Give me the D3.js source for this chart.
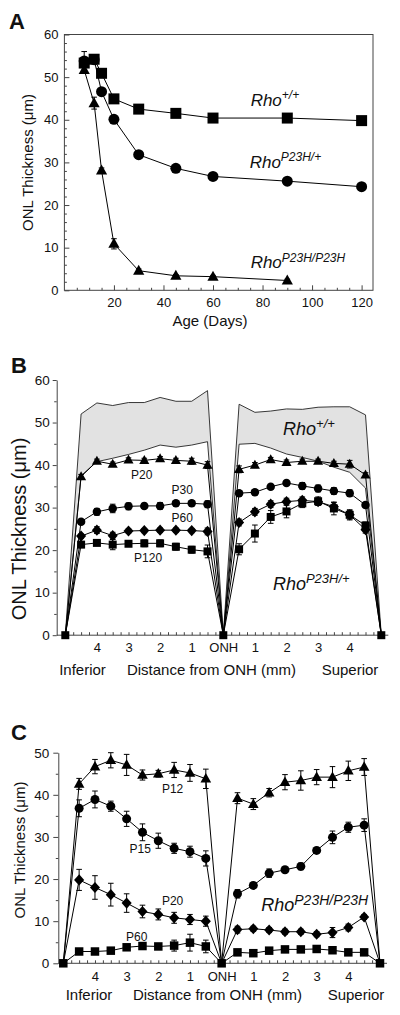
<!DOCTYPE html>
<html><head><meta charset="utf-8">
<script src="https://cdn.jsdelivr.net/npm/d3@7"></script>
<style>
body{margin:0;background:#fff}
text{font-family:"Liberation Sans",Arial,Helvetica,sans-serif;fill:#111}
</style>
</head><body>
<svg id="chart" width="400" height="1015"></svg>
<script>
// ---------- Panel A data ----------
const ageDays    = [8, 12, 15, 20, 30, 45, 60, 90, 120];
const ageWT      = [53.3, 54.2, 50.9, 44.9, 42.5, 41.5, 40.4, 40.4, 39.8];
const ageWTErr   = [0.6, 0.5, 0.5, 0.5, 0.5, 0.5, 0.5, 0.5, 0.5];
const ageHet     = [53.8, 54.1, 46.6, 40.1, 31.8, 28.6, 26.7, 25.6, 24.3];
const ageHetErr  = [2.2, 0.5, 0.5, 0.5, 0.5, 0.5, 0.5, 0.5, 0.5];
const ageHomDays = [8, 12, 15, 20, 30, 45, 60, 90];
const ageHom     = [51.7, 43.9, 28.1, 10.9, 4.6, 3.4, 3.2, 2.3];
const ageHomErr  = [0.6, 1.4, 0.6, 1.2, 0.4, 0.3, 0.3, 0.3];
const ageYTicks  = [0, 10, 20, 30, 40, 50, 60];
const ageXTicks  = [20, 40, 60, 80, 100, 120];

// ---------- Shared x positions for panels B and C (mm from ONH; - = inferior) ----------
const positions = [-5,-4.5,-4,-3.5,-3,-2.5,-2,-1.5,-1,-0.5,0,0.5,1,1.5,2,2.5,3,3.5,4,4.5,5];
const posTicks  = [-4,-3,-2,-1,0,1,2,3,4];

// ---------- Panel B data (Rho P23H/+ , with Rho +/+ range band) ----------
const bWTUpper = [0,52.0,54.6,54.0,54.7,54.7,55.9,55.0,55.0,57.5,0,54.3,52.4,52.7,53.2,53.1,53.6,53.7,53.7,51.8,0];
const bWTLower = [0,37.5,40.8,41.6,42.5,43.5,44.7,44.2,44.7,45.5,0,44.9,45.1,44.0,42.6,41.8,40.9,39.5,38.3,34.6,0];
const bP20     = [0,37.3,40.9,40.2,41.2,41.1,41.5,41.1,40.9,40.0,0,39.0,40.0,41.3,40.6,40.9,40.9,40.4,40.2,37.7,0];
const bP20Err  = [0,0.5,0.5,0.5,0.5,0.5,0.5,0.5,0.7,0.8,0,0.8,0.6,0.5,0.6,0.5,0.5,0.5,0.9,0.5,0];
const bP30     = [0,26.7,29.0,29.8,30.3,30.4,30.4,31.0,31.0,30.8,0,33.4,33.6,34.9,35.8,35.1,34.5,33.9,33.4,30.6,0];
const bP30Err  = [0,0.5,0.8,1.0,0.8,0.6,0.8,0.6,0.6,0.8,0,0.6,0.6,0.5,0.5,0.8,0.8,0.8,0.8,0.6,0];
const bP60     = [0,23.3,24.7,23.4,24.5,24.6,24.7,24.7,24.6,24.4,0,26.5,29.0,30.8,31.4,31.7,31.4,30.2,28.3,24.8,0];
const bP60Err  = [0,0.5,0.8,0.8,0.5,0.5,0.5,0.5,0.5,0.8,0,0.8,0.8,0.8,0.8,0.8,0.8,1.0,1.0,0.8,0];
const bP120    = [0,21.3,21.7,21.3,21.5,21.6,21.6,20.8,20.1,19.7,0,20.2,23.9,27.8,29.1,31.0,31.5,29.8,28.3,25.8,0];
const bP120Err = [0,0.7,0.5,1.2,0.5,0.8,0.8,0.8,0.8,1.5,0,1.3,2.0,1.5,1.5,1.0,1.0,1.5,1.2,0.8,0];
const bYTicks  = [0, 10, 20, 30, 40, 50, 60];

// ---------- Panel C data (Rho P23H/P23H) ----------
const cP12     = [0,42.6,46.7,48.2,47.1,44.7,45.0,45.9,45.2,43.8,0,39.2,37.8,40.5,43.0,43.4,44.2,44.2,45.7,46.6,0];
const cP12Err  = [0,1.3,1.7,1.8,2.5,1.2,0.8,1.8,2.0,2.3,0,1.3,1.3,1.0,1.8,2.3,1.8,2.5,2.3,2.0,0];
const cP15     = [0,36.8,38.9,37.3,34.3,31.1,29.1,27.3,26.5,24.9,0,16.5,18.5,21.4,22.2,23.0,26.8,29.9,32.3,32.8,0];
const cP15Err  = [0,2.0,2.0,1.2,1.8,2.0,1.8,1.2,1.3,1.8,0,1.0,0.7,1.0,0.6,0.8,0.5,1.5,1.2,1.5,0];
const cP20     = [0,19.8,18.0,16.3,14.3,12.3,11.6,10.8,10.4,10.0,0,8.0,8.2,7.9,7.5,7.5,6.9,7.3,8.5,11.0,0];
const cP20Err  = [0,2.5,2.8,2.7,2.2,1.5,1.3,1.3,1.2,1.2,0,0.8,0.6,0.6,0.6,0.6,0.6,1.2,0.8,0.6,0];
const cP60     = [0,2.8,2.8,3.0,3.8,4.1,4.0,4.2,4.9,4.0,0,2.6,2.4,3.0,3.3,3.3,3.4,3.1,2.6,2.6,0];
const cP60Err  = [0,0.5,0.5,0.5,0.6,0.8,0.7,1.3,2.0,1.5,0,0.5,0.5,0.5,0.5,0.5,0.5,0.6,0.5,0.5,0];
const cYTicks  = [0, 10, 20, 30, 40, 50];

// ---------- helpers ----------
const svg = d3.select("#chart");
svg.append("rect").attr("width",400).attr("height",1015).attr("fill","#fff");
const AX = "#444";

function shapePath(shape, s){
  if(shape==="square"){ const h=s/2; return `M${-h},${-h}H${h}V${h}H${-h}Z`; }
  if(shape==="circle"){ const r=s/2; return `M${r},0A${r},${r} 0 1,1 ${-r},0A${r},${r} 0 1,1 ${r},0Z`; }
  if(shape==="triangle"){ const w=s*1.12, h=s; return `M0,${-h*0.6}L${w/2},${h*0.4}L${-w/2},${h*0.4}Z`; }
  if(shape==="diamond"){ const w=s*0.56, h=s*0.62; return `M0,${-h}L${w},0L0,${h}L${-w},0Z`; }
}

function drawSeries(g, xs, ys, errs, x, y, shape, size, markAll){
  const pts = xs.map((d,i)=>({x:d, y:ys[i], e: errs ? errs[i] : 0}));
  g.append("path").datum(pts)
    .attr("d", d3.line().x(d=>x(d.x)).y(d=>y(d.y)))
    .attr("fill","none").attr("stroke","#000").attr("stroke-width",1);
  const eb = g.append("g").attr("stroke","#000").attr("stroke-width",1);
  pts.filter(d=>d.e>0).forEach(d=>{
    const cx=x(d.x), y1=y(d.y+d.e), y2=y(d.y-d.e);
    eb.append("line").attr("x1",cx).attr("x2",cx).attr("y1",y1).attr("y2",y2);
    eb.append("line").attr("x1",cx-2.8).attr("x2",cx+2.8).attr("y1",y1).attr("y2",y1);
    eb.append("line").attr("x1",cx-2.8).attr("x2",cx+2.8).attr("y1",y2).attr("y2",y2);
  });
  g.append("g").selectAll("path").data(pts.filter(d=> markAll || d.y>0)).join("path")
    .attr("transform", d=>`translate(${x(d.x)},${y(d.y)})`)
    .attr("d", shapePath(shape,size)).attr("fill","#000");
}

function rhoLabel(g, xpx, ypx, sup, size, supSize){
  const t = g.append("text").attr("x",xpx).attr("y",ypx)
    .attr("font-size",size).attr("font-style","italic");
  t.append("tspan").text("Rho");
  t.append("tspan").attr("dy", -size*0.38).attr("font-size",supSize).text(sup);
}

function styleAxis(a){
  a.selectAll("path.domain").attr("stroke",AX);
  a.selectAll(".tick line").attr("stroke",AX);
  a.selectAll("text").attr("fill","#111");
}

// ================= Panel A =================
{
  const g = svg.append("g");
  const x = d3.scaleLinear().domain([0,124.6]).range([64.4,373]);
  const y = d3.scaleLinear().domain([0,60]).range([290.3,34.5]);
  // frame
  g.append("rect").attr("x",x.range()[0]).attr("y",y(60))
    .attr("width",x.range()[1]-x.range()[0]).attr("height",y(0)-y(60))
    .attr("fill","none").attr("stroke",AX).attr("stroke-width",1);
  // ticks
  const xa = g.append("g").attr("transform",`translate(0,${y(0)})`)
    .call(d3.axisBottom(x).tickValues(ageXTicks).tickSizeInner(-5).tickSizeOuter(0).tickPadding(7))
    .attr("font-size",13).attr("font-family",null);
  styleAxis(xa); xa.select(".domain").remove();
  const xm = g.append("g").attr("transform",`translate(0,${y(0)})`)
    .call(d3.axisBottom(x).tickValues(d3.range(5,125,5).filter(v=>v%20!==0)).tickSizeInner(-2.5).tickSizeOuter(0).tickFormat(""));
  styleAxis(xm); xm.select(".domain").remove();
  const ya = g.append("g").attr("transform",`translate(${x.range()[0]},0)`)
    .call(d3.axisLeft(y).tickValues(ageYTicks).tickSizeInner(-5).tickSizeOuter(0).tickPadding(6))
    .attr("font-size",13).attr("font-family",null);
  styleAxis(ya); ya.select(".domain").remove();
  const ym = g.append("g").attr("transform",`translate(${x.range()[0]},0)`)
    .call(d3.axisLeft(y).tickValues(d3.range(2,60,2).filter(v=>v%10!==0)).tickSizeInner(-2.5).tickSizeOuter(0).tickFormat(""));
  styleAxis(ym); ym.select(".domain").remove();

  drawSeries(g, ageDays, ageWT, ageWTErr, x, y, "square", 11, true);
  drawSeries(g, ageDays, ageHet, ageHetErr, x, y, "circle", 11, true);
  drawSeries(g, ageHomDays, ageHom, ageHomErr, x, y, "triangle", 10, true);

  rhoLabel(g, x(75.2), y(43.3), "+/+", 17, 12);
  rhoLabel(g, x(74.8), y(28.7), "P23H/+", 17, 12);
  rhoLabel(g, x(75.2), y(5.2), "P23H/P23H", 17, 12);

  g.append("text").attr("x",210).attr("y",326).attr("text-anchor","middle").attr("font-size",15).text("Age (Days)");
  g.append("text").attr("transform","translate(27.5,162.5) rotate(-90)").attr("dy","0.35em")
    .attr("text-anchor","middle").attr("font-size",15).text("ONL Thickness (\u03BCm)");
  g.append("text").attr("x",9).attr("y",28.5).attr("font-size",22).attr("font-weight","bold").text("A");
}

// ================= Panels B and C (shared layout builder) =================
function distancePanel(cfg){
  const g = svg.append("g");
  const x = d3.scaleLinear().domain([-5,5]).range(cfg.xRange);
  const y = d3.scaleLinear().domain(cfg.yDomain).range(cfg.yRange);
  // y axis
  const ya = g.append("g").attr("transform",`translate(${cfg.axisX},0)`)
    .call(d3.axisLeft(y).tickValues(cfg.yTicks).tickSizeInner(cfg.yTick).tickSizeOuter(0).tickPadding(cfg.yPad))
    .attr("font-size",cfg.yFont).attr("font-family",null);
  styleAxis(ya);
  const ym = g.append("g").attr("transform",`translate(${cfg.axisX},0)`)
    .call(d3.axisLeft(y).tickValues(d3.range(5,cfg.yDomain[1],10)).tickSizeInner(2.5).tickSizeOuter(0).tickFormat(""));
  styleAxis(ym); ym.select(".domain").remove();
  // x axis line
  g.append("line").attr("x1",cfg.axisX).attr("x2",x(5)+7).attr("y1",y(0)).attr("y2",y(0))
    .attr("stroke",AX).attr("stroke-width",1);
  const xm = g.append("g").attr("transform",`translate(0,${y(0)})`)
    .call(d3.axisBottom(x).tickValues(d3.range(-5,5.001,0.25)).tickSizeInner(-3).tickSizeOuter(0).tickFormat(""));
  styleAxis(xm); xm.select(".domain").remove();
  const xl = g.append("g").attr("transform",`translate(0,${y(0)})`)
    .call(d3.axisBottom(x).tickValues(posTicks).tickSize(0).tickPadding(cfg.xPad)
      .tickFormat(d=> d===0 ? "ONH" : String(Math.abs(d))))
    .attr("font-size",13).attr("font-family",null);
  styleAxis(xl); xl.select(".domain").remove();

  const sub = y(0) + cfg.subDy;
  g.append("text").attr("x",cfg.subX[0]).attr("y",sub).attr("text-anchor","middle").attr("font-size",15).text("Inferior");
  g.append("text").attr("x",cfg.subX[1]).attr("y",sub).attr("text-anchor","middle").attr("font-size",15).text("Distance from ONH (mm)");
  g.append("text").attr("x",cfg.subX[2]).attr("y",sub).attr("text-anchor","middle").attr("font-size",15).text("Superior");
  g.append("text").attr("transform",`translate(${cfg.yLabel[0]},${cfg.yLabel[1]}) rotate(-90)`).attr("dy","0.35em")
    .attr("text-anchor","middle").attr("font-size",cfg.yLabelFont).text("ONL Thickness (\u03BCm)");
  g.append("text").attr("x",cfg.letter[0]).attr("y",cfg.letter[1]).attr("font-size",22).attr("font-weight","bold").text(cfg.letterText);
  return {g, x, y};
}

// ---------- Panel B ----------
{
  const {g, x, y} = distancePanel({
    xRange:[65.3,381.3], yDomain:[0,60], yRange:[635.2,380], axisX:56.7,
    yTicks:bYTicks, yTick:4, yPad:3, yFont:13.5, xPad:8,
    subDy:40, subX:[82.5,211.5,350], yLabel:[19,529], yLabelFont:20,
    letter:[11,373], letterText:"B"
  });
  const band = positions.map((p,i)=>({p, lo:bWTLower[i], hi:bWTUpper[i]}));
  g.append("path").datum(band)
    .attr("d", d3.area().x(d=>x(d.p)).y0(d=>y(d.lo)).y1(d=>y(d.hi)))
    .attr("fill","#e2e2e2").attr("stroke","none");
  [bWTUpper, bWTLower].forEach(arr=>{
    g.append("path").datum(positions.map((p,i)=>({p, v:arr[i]})))
      .attr("d", d3.line().x(d=>x(d.p)).y(d=>y(d.v)))
      .attr("fill","none").attr("stroke","#222").attr("stroke-width",0.9);
  });
  drawSeries(g, positions, bP20, bP20Err, x, y, "triangle", 9, false);
  drawSeries(g, positions, bP30, bP30Err, x, y, "circle", 8.5, false);
  drawSeries(g, positions, bP60, bP60Err, x, y, "diamond", 9, false);
  drawSeries(g, positions, bP120, bP120Err, x, y, "square", 8, true);

  const lab = (t,px,v)=> g.append("text").attr("x",x(px)).attr("y",y(v)).attr("dy","0.35em")
    .attr("text-anchor","middle").attr("font-size",12).text(t);
  lab("P20",-2.58,37.7); lab("P30",-1.3,34.1); lab("P60",-1.3,27.5); lab("P120",-2.38,18.3);
  rhoLabel(g, x(1.89), y(47.1), "+/+", 18, 13);
  rhoLabel(g, x(1.57), y(10.6), "P23H/+", 18, 13);
}

// ---------- Panel C ----------
{
  const {g, x, y} = distancePanel({
    xRange:[63.3,380], yDomain:[0,50], yRange:[963.3,752.7], axisX:58.3,
    yTicks:cYTicks, yTick:5, yPad:4, yFont:13.5, xPad:8,
    subDy:37, subX:[89,217.5,356], yLabel:[19.5,850], yLabelFont:15,
    letter:[11,740], letterText:"C"
  });
  drawSeries(g, positions, cP12, cP12Err, x, y, "triangle", 9.5, false);
  drawSeries(g, positions, cP15, cP15Err, x, y, "circle", 9, false);
  drawSeries(g, positions, cP20, cP20Err, x, y, "diamond", 9, false);
  drawSeries(g, positions, cP60, cP60Err, x, y, "square", 8.5, true);

  const lab = (t,px,v)=> g.append("text").attr("x",x(px)).attr("y",y(v)).attr("dy","0.35em")
    .attr("text-anchor","middle").attr("font-size",12).text(t);
  lab("P12",-1.55,41.5); lab("P15",-2.57,27.3); lab("P20",-1.55,14.9); lab("P60",-2.68,6.3);
  rhoLabel(g, x(1.25), y(12.3), "P23H/P23H", 18, 14);
}
</script>
</body></html>
